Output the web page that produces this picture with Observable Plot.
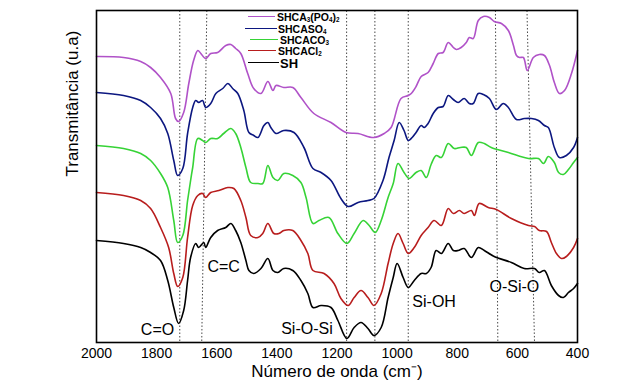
<!DOCTYPE html>
<html><head><meta charset="utf-8">
<script src="https://cdn.jsdelivr.net/npm/d3@7"></script>
<script src="https://cdn.jsdelivr.net/npm/@observablehq/plot@0.6"></script>
<style>
body{margin:0;background:#fff;}
#wrap{position:relative;width:640px;height:382px;font-family:"Liberation Sans",Arial,sans-serif;}
.lg{position:absolute;font-weight:bold;white-space:nowrap;color:#000;line-height:1;}
.ln{position:absolute;height:0;border-top:1.5px solid;}
.lg sub{font-size:0.6em;vertical-align:baseline;position:relative;top:0.15em;line-height:0;}
</style>
</head><body>
<div id="wrap"></div>
<script>
// Series (wavenumber cm-1, transmittance u.a. offset-stacked)
const seriesNames = ["SHCA3(PO4)2","SHCASO4","SHCACO3","SHCACl2","SH"];
const legendLabels = ["SHCA<sub>3</sub>(PO<sub>4</sub>)<sub>2</sub>","SHCASO<sub>4</sub>","SHCACO<sub>3</sub>","SHCACl<sub>2</sub>","SH"];
const seriesColors = ["#b052c8","#0c1780","#36d336","#b81d1d","#000000"];

const SHCA3PO4 = [[2000,286],[1910,285],[1853,281],[1820,275],[1787,265],[1753,249],[1737,224],[1727,221],[1710,230],[1693,259],[1677,282],[1663,292],[1653,289],[1637,284],[1620,289],[1597,290],[1570,297],[1553,298],[1537,294],[1520,289],[1497,269],[1477,254],[1453,249],[1430,261],[1413,252],[1403,257],[1377,255],[1347,255],[1320,245],[1277,229],[1220,220],[1170,210],[1130,209],[1077,205],[1043,209],[1020,215],[987,244],[963,247],[953,249],[937,256],[920,266],[897,270],[880,279],[863,289],[847,290],[830,300],[813,295],[803,293],[787,295],[770,300],[760,305],[747,304],[730,322],[713,326],[693,325],[677,321],[653,319],[630,312],[613,297],[603,287],[593,285],[580,285],[567,272],[547,285],[527,288],[510,287],[493,277],[477,260],[460,249],[443,252],[420,269],[400,292]];
const SHCASO4 = [[2000,250],[1910,247],[1853,242],[1820,235],[1787,224],[1763,209],[1743,182],[1730,167],[1713,174],[1697,209],[1680,235],[1670,242],[1660,240],[1647,242],[1637,235],[1620,239],[1603,249],[1580,254],[1563,259],[1547,254],[1530,249],[1510,232],[1493,210],[1477,207],[1463,205],[1443,217],[1430,220],[1420,215],[1403,209],[1377,212],[1343,210],[1310,195],[1280,174],[1253,170],[1220,162],[1187,144],[1163,136],[1130,140],[1097,142],[1077,144],[1047,162],[1027,185],[1010,202],[993,220],[977,212],[963,202],[950,205],[937,210],[920,217],[910,215],[897,219],[880,229],[863,235],[847,236],[830,247],[813,243],[797,240],[777,244],[760,239],[747,239],[730,249],[713,248],[693,244],[670,233],[647,239],[630,235],[603,223],[577,224],[553,224],[530,222],[510,217],[497,215],[477,195],[460,185],[437,187],[413,195],[400,205]];
const SHCACO3 = [[2000,197],[1910,194],[1853,189],[1820,182],[1787,169],[1763,155],[1743,122],[1730,100],[1713,107],[1697,142],[1687,162],[1680,175],[1663,204],[1647,202],[1637,200],[1620,204],[1597,204],[1577,209],[1553,214],[1537,209],[1520,195],[1503,175],[1487,160],[1463,159],[1447,159],[1430,177],[1413,165],[1397,162],[1377,169],[1347,167],[1320,160],[1303,145],[1280,119],[1260,122],[1227,125],[1197,109],[1167,99],[1143,109],[1113,122],[1093,117],[1073,110],[1053,122],[1030,145],[1013,159],[997,179],[977,170],[960,164],[937,170],[920,172],[903,165],[887,178],[870,187],[853,185],[830,199],[810,194],[790,195],[770,195],[753,187],[730,200],[710,199],[687,195],[630,190],[563,184],[530,184],[513,179],[497,186],[477,180],[463,170],[447,168],[430,173],[413,180],[400,185]];
const SHCACl2 = [[2000,150],[1910,147],[1853,142],[1820,134],[1787,115],[1760,95],[1743,69],[1730,56],[1713,65],[1697,105],[1680,137],[1663,147],[1647,149],[1637,145],[1620,150],[1593,152],[1563,155],[1543,154],[1520,142],[1503,125],[1487,107],[1463,105],[1447,109],[1430,119],[1410,109],[1393,109],[1377,112],[1347,112],[1320,102],[1297,89],[1280,72],[1243,69],[1210,59],[1187,44],[1163,37],[1143,45],[1120,52],[1097,45],[1077,37],[1053,49],[1030,79],[1013,99],[997,109],[980,99],[963,89],[943,95],[920,107],[897,115],[877,122],[853,117],[830,134],[813,129],[793,132],[777,129],[753,132],[743,127],[727,139],[697,135],[670,133],[620,124],[563,117],[543,116],[527,112],[503,111],[487,100],[470,89],[453,84],[437,86],[413,95],[400,104]];
const SH = [[2000,102],[1910,99],[1853,95],[1820,90],[1787,82],[1763,62],[1743,35],[1727,19],[1710,32],[1697,62],[1687,85],[1670,99],[1660,95],[1643,100],[1637,95],[1620,105],[1597,112],[1570,115],[1553,119],[1537,112],[1520,100],[1503,82],[1493,72],[1477,69],[1453,74],[1430,84],[1413,72],[1397,70],[1377,74],[1347,72],[1320,62],[1297,49],[1280,35],[1253,37],[1220,35],[1197,22],[1167,4],[1143,15],[1120,20],[1097,14],[1077,7],[1053,15],[1030,45],[1013,65],[1000,79],[980,65],[963,55],[943,62],[920,69],[903,69],[887,75],[870,92],[853,89],[830,99],[813,92],[797,92],[777,94],[753,85],[730,95],[710,92],[677,86],[620,80],[577,74],[543,74],[527,70],[510,72],[487,57],[463,47],[447,45],[430,50],[413,54],[400,59]];
const seriesData = [SHCA3PO4, SHCASO4, SHCACO3, SHCACl2, SH];

const xTicks = [2000,1800,1600,1400,1200,1000,800,600,400];
const yDomain = [0, 332];
// dotted band markers (top / bottom wavenumber)
const markTop = [1723,1633,1168,1074,963,673,568];
const markBottom = [1723,1650,1168,1074,963,665,543];
// band annotations
const annLabels = ["C=O","C=C","Si-O-Si","Si-OH","O-Si-O"];
const annX = [1797,1577,1300,877,610];
const annY = [13,76,14,41,56];

const xTitle = "Número de onda (cm\u207B)";
const yTitle = "Transmitância (u.a)";

const rows = [];
seriesNames.forEach((name,i)=>seriesData[i].forEach(([wn,t])=>rows.push({series:name, wn, t})));
const marks = markTop.map((v,i)=>({top:v, bottom:markBottom[i]}));
const anns = annLabels.map((l,i)=>({label:l, x:annX[i], y:annY[i]}));

const font = '"Liberation Sans", Arial, sans-serif';
const chart = Plot.plot({
  width:640, height:382,
  marginLeft:96, marginRight:63, marginTop:10, marginBottom:40,
  style:{fontFamily:font, color:"#000", background:"#fff", overflow:"visible"},
  x:{domain:[2000,400]},
  y:{domain:yDomain, axis:null},
  color:{domain:seriesNames, range:seriesColors},
  marks:[
    Plot.link(marks, {x1:"top", x2:"bottom", y1:()=>yDomain[1], y2:()=>yDomain[0], stroke:"#333", strokeWidth:0.9, strokeDasharray:"1.5,2"}),
    Plot.line(rows, {x:"wn", y:"t", z:"series", stroke:"series", strokeWidth:1.6, curve:"catmull-rom"}),
    Plot.text(anns, {x:"x", y:"y", text:"label", fontSize:16, fill:"#000"}),
    Plot.axisX({ticks:xTicks, tickSize:0, tickPadding:6, fontSize:14, tickFormat:d=>String(d), label:null}),
    Plot.text([xTitle], {frameAnchor:"bottom", lineAnchor:"middle", dy:29, fontSize:17, fill:"#000"}),
    Plot.text([yTitle], {frameAnchor:"left", lineAnchor:"middle", dx:-24, rotate:-90, fontSize:17, fill:"#000"}),
    Plot.frame({stroke:"#000", strokeWidth:1.6})
  ]
});
const wrap = document.getElementById("wrap");
wrap.appendChild(chart);

// legend overlay
const lgLayout = [
  {x1:248,x2:275,tx:277,cy:17,fs:10.5},
  {x1:245,x2:277,tx:278,cy:29,fs:10.5},
  {x1:250,x2:278,tx:280,cy:40,fs:10.5},
  {x1:248,x2:276,tx:278,cy:51,fs:10.5},
  {x1:248,x2:279,tx:280,cy:63,fs:13}
];
legendLabels.forEach((lab,i)=>{
  const L = lgLayout[i];
  const ln = document.createElement("div");
  ln.className="ln";
  ln.style.left=L.x1+"px"; ln.style.width=(L.x2-L.x1)+"px"; ln.style.top=(L.cy-0.75)+"px";
  ln.style.borderColor=seriesColors[i];
  wrap.appendChild(ln);
  const t = document.createElement("div");
  t.className="lg";
  t.style.left=L.tx+"px"; t.style.top=(L.cy-L.fs*0.5)+"px"; t.style.fontSize=L.fs+"px";
  t.style.height=L.fs+"px";
  t.innerHTML=lab;
  wrap.appendChild(t);
});
</script>
</body></html>
